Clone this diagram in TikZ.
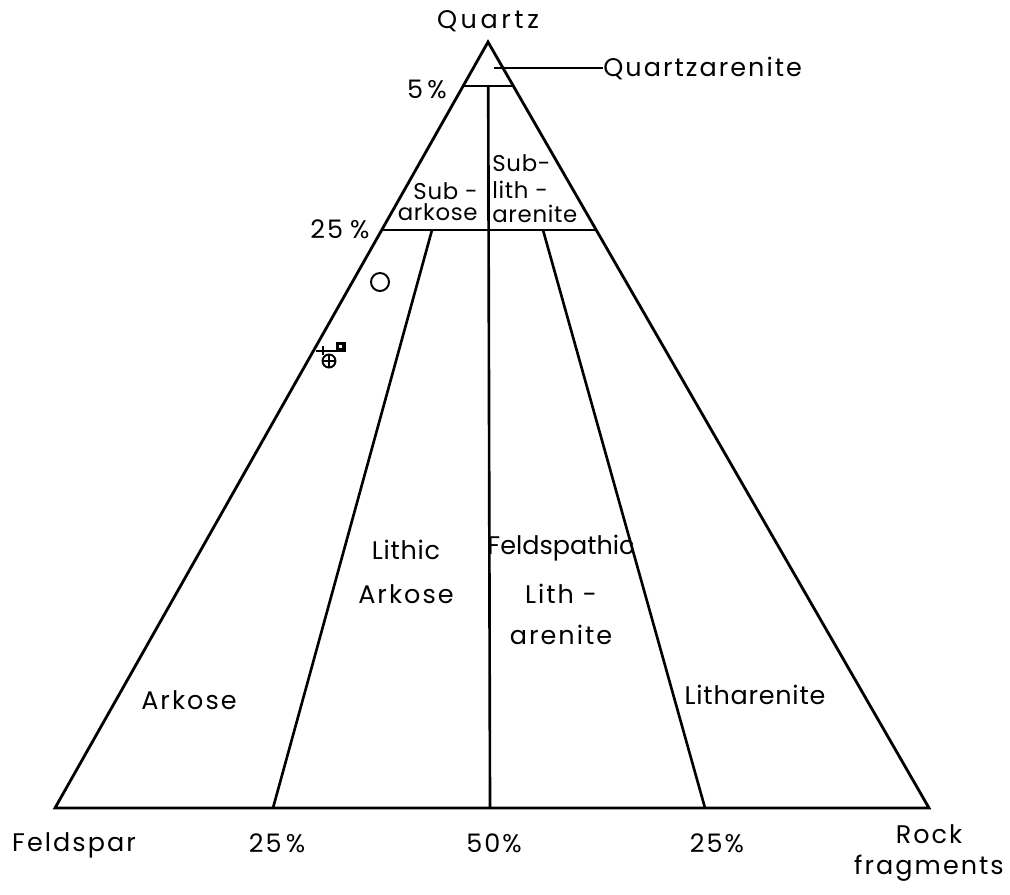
\documentclass[tikz,border=0pt]{standalone}
\usepackage{fontspec}
\setmainfont{Poppins}
\newfontfamily\spacedfont[LetterSpace=8]{Poppins}
\newfontfamily\tightfont[LetterSpace=3]{Poppins}
\newfontfamily\widefont[LetterSpace=14]{Poppins}
\usetikzlibrary{positioning,calc}

\begin{document}
\begin{tikzpicture}[
    x=0.02cm, y=-0.02cm,
    lbl/.style={inner sep=0pt, font=\spacedfont\fontsize{14.5}{17}\selectfont},
    field/.style={inner sep=0pt, align=center, font=\spacedfont\fontsize{14.5}{17}\selectfont},
    small/.style={inner sep=0pt, font=\tightfont\fontsize{13}{15}\selectfont},
    edge/.style={line width=1.6pt, line join=miter},
    divide/.style={line width=1.5pt},
    sample/.style={line width=1.1pt}
]
\useasboundingbox (0,0) rectangle (1010,894);

% Corners of the triangle
\coordinate (qz) at (488,42);
\coordinate (fs) at (55,808);
\coordinate (rf) at (929,808);
\draw[edge] (qz) -- (fs) -- (rf) -- cycle;

% Quartz limits: 5% and 25%
\coordinate (q5l) at ($(qz)!0.0574!(fs)$);
\coordinate (q5r) at ($(qz)!0.0574!(rf)$);
\coordinate (q25l) at ($(qz)!0.2454!(fs)$);
\coordinate (q25r) at ($(qz)!0.2454!(rf)$);
\draw[divide] (q5l) -- (q5r);
\draw[divide] (q25l) -- (q25r);

% Feldspar / rock fragment ratio lines
\coordinate (mid5) at ($(q5l)!0.5!(q5r)$);
\coordinate (mid0) at (490,808);
\coordinate (a25t) at (432,230);
\coordinate (a25b) at (273,808);
\coordinate (l25t) at (543,230);
\coordinate (l25b) at (705,808);
\draw[divide] (mid5) -- (mid0);
\draw[divide] (a25t) -- (a25b);
\draw[divide] (l25t) -- (l25b);

% Corner and axis labels
\node[lbl, font=\widefont\fontsize{14.5}{17}\selectfont] (quartz) at (488,21) {Quartz};
\node[lbl] (feldspar) at (74,845) {Feldspar};
\node[lbl, align=center] (rock) at (929,853) {Rock\\[1pt]fragments};
\node[lbl] (p5) at (427,89) {5\,\%};
\node[lbl] (p25) at (340,229) {25\;\%};
\node[lbl] (b25l) at (277,843) {25\,\%};
\node[lbl] (b50) at (494,843) {50\%};
\node[lbl] (b25r) at (717,843) {25\%};

% Field names
\coordinate (qaend) at (494,68);
\node[lbl, anchor=west] (quartzarenite) at (603,68) {Quartzarenite};
\draw[line width=1pt] (qaend) -- (quartzarenite.west);
\node[small, align=right, anchor=east] (subarkose) at (478,202) {Sub -\\[-3pt]arkose};
\node[small, align=left, anchor=west] (sublith) at (492,189) {Sub-\\[0pt]lith -\\[-1pt]arenite};
\node[field] (lithark) at (406,572) {{\tightfont Lithic}\\[8pt]Arkose};
\node[field, font=\fontsize{14.5}{17}\selectfont] (feldlith) at (561,590) {Feldspathic\\[11pt]{\spacedfont Lith -}\\[6pt]{\spacedfont arenite}};
\node[lbl] (arkose) at (189,700) {Arkose};
\node[lbl, font=\tightfont\fontsize{14.5}{17}\selectfont] (litharenite) at (755,695) {Litharenite};

% Plotted samples
\node[sample, draw, circle, minimum size=18pt*0.57, inner sep=0pt] (s1) at (380,282) {};
\node[sample, draw, circle, minimum size=13pt*0.57, inner sep=0pt] (s2) at (329,361) {};
\draw[sample] (s2.north) -- (s2.south) (s2.west) -- (s2.east);
\coordinate (s3) at (323,351);
\draw[sample] ($(s3)+(-7,0)$) -- ($(s3)+(14,0)$) ($(s3)+(0,-5)$) -- ($(s3)+(0,4)$);
\node[fill=black, minimum size=10*0.57pt, inner sep=0pt] (s4) at (341,347) {};
\fill[white] ($(s4)+(-2,-2)$) rectangle ($(s4)+(1,1)$);
\end{tikzpicture}
\end{document}
